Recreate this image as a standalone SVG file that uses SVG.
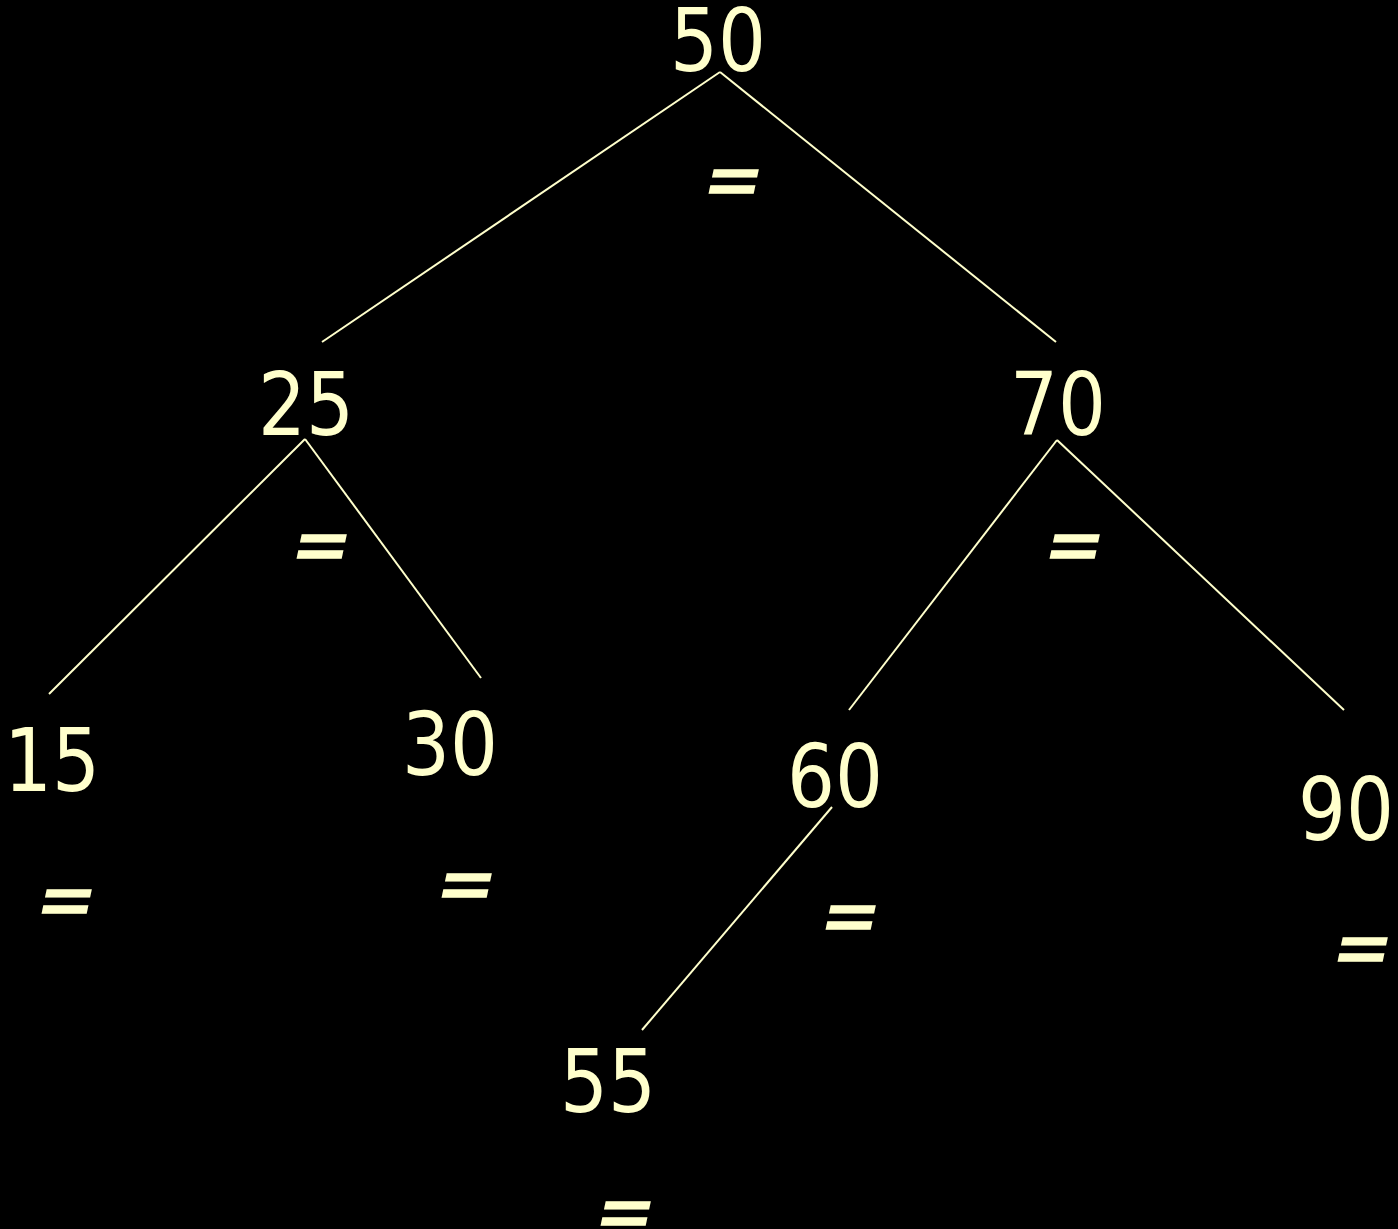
<svg xmlns="http://www.w3.org/2000/svg" width="1398" height="1229" viewBox="0 0 1398 1229">
<style>
.num{font-family:"DejaVu Sans","Liberation Sans",sans-serif;font-size:88px;fill:#FFFFCC;text-anchor:middle}
.bf{font-family:"DejaVu Sans","Liberation Sans",sans-serif;font-weight:bold;font-size:72px;fill:#FFFFCC;text-anchor:middle}
.edge{stroke:#FFFFCC;stroke-width:2;fill:none}
</style>
<rect width="1398" height="1229" fill="#000000"/>
<g id="connectors">
<line class="edge" x1="720" y1="72" x2="322" y2="342"/>
<line class="edge" x1="720" y1="72" x2="1056" y2="342"/>
<line class="edge" x1="305" y1="439" x2="49" y2="694"/>
<line class="edge" x1="305" y1="439" x2="481" y2="678"/>
<line class="edge" x1="1057" y1="440" x2="849" y2="710"/>
<line class="edge" x1="1057" y1="440" x2="1344" y2="710"/>
<line class="edge" x1="832" y1="807" x2="642" y2="1030"/>
</g>
<g id="n50"><text class="num" x="718" y="71" textLength="96" lengthAdjust="spacingAndGlyphs">50</text><text class="bf" transform="translate(729,204) skewX(-12)">=</text></g>
<g id="n25"><text class="num" x="306" y="435" textLength="96" lengthAdjust="spacingAndGlyphs">25</text><text class="bf" transform="translate(317,569) skewX(-12)">=</text></g>
<g id="n70"><text class="num" x="1058" y="435" textLength="96" lengthAdjust="spacingAndGlyphs">70</text><text class="bf" transform="translate(1070,569) skewX(-12)">=</text></g>
<g id="n15"><text class="num" x="52" y="791" textLength="96" lengthAdjust="spacingAndGlyphs">15</text><text class="bf" transform="translate(62,924) skewX(-12)">=</text></g>
<g id="n30"><text class="num" x="450" y="775" textLength="96" lengthAdjust="spacingAndGlyphs">30</text><text class="bf" transform="translate(462,908) skewX(-12)">=</text></g>
<g id="n60"><text class="num" x="835" y="807" textLength="96" lengthAdjust="spacingAndGlyphs">60</text><text class="bf" transform="translate(846,940) skewX(-12)">=</text></g>
<g id="n90"><text class="num" x="1346" y="840" textLength="96" lengthAdjust="spacingAndGlyphs">90</text><text class="bf" transform="translate(1358,972) skewX(-12)">=</text></g>
<g id="n55"><text class="num" x="608" y="1112" textLength="96" lengthAdjust="spacingAndGlyphs">55</text><text class="bf" transform="translate(621,1236) skewX(-12)">=</text></g>
</svg>
